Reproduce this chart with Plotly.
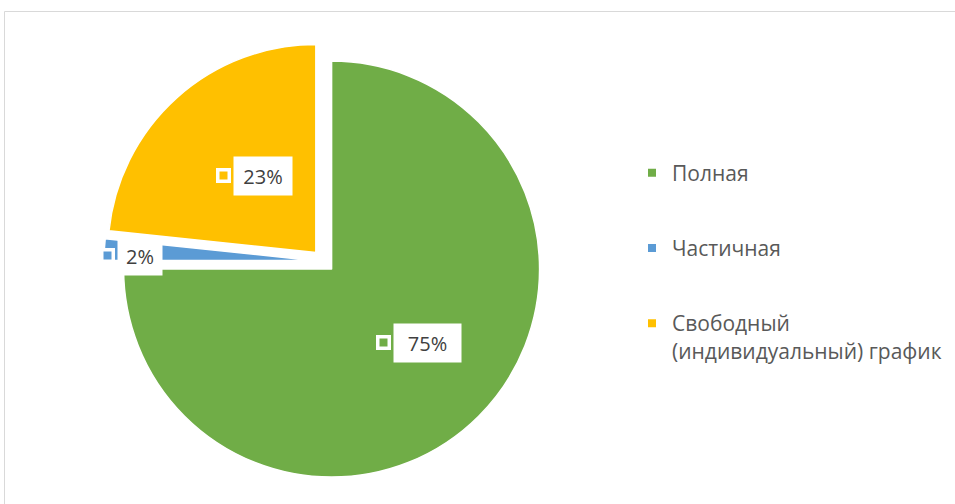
import math
import plotly.graph_objects as go

# ── Data ─────────────────────────────────────────────────────────────────────
labels = ["Полная", "Частичная", "Свободный<br>(индивидуальный) график"]
values = [45, 1, 14]
colors = ["#70AD47", "#5B9BD5", "#FFC000"]

# ── Layout constants (px) ────────────────────────────────────────────────────
W, H = 955, 504
PULL = 0.055
CX, CY, R = 323.5, 261, 208        # pie centre and radius
FONT = "Open Sans"

# data label placement: radial share of R and angle tweak (deg) off slice middle
LABEL_RAD = [0.55, 0.869, 0.473]
LABEL_TWEAK = [-4.8, -1.6, 3.1]
BOX_W = [67, 44, 58]
BOX_H = 38
KEY, KEY_BORDER, GAP = 8, 3.5, 3


def px_x(x):
    return x / W


def px_y(y):
    return 1 - y / H


half = R * (1 + PULL)
fig = go.Figure()

fig.add_trace(go.Pie(
    labels=labels, values=values, sort=False, direction="clockwise", rotation=0,
    pull=[PULL] * len(values), textinfo="none", hoverinfo="label+percent",
    marker=dict(colors=colors, line=dict(color="white", width=1.5)),
    showlegend=False,
    domain=dict(x=[px_x(CX - 1.2 * half), px_x(CX + 1.2 * half)],
                y=[px_y(CY + half), px_y(CY - half)]),
))

# legend entries (separate groups so the spacing can be opened up)
for i, (lab, col) in enumerate(zip(labels, colors)):
    fig.add_trace(go.Scatter(x=[None], y=[None], mode="markers", name=lab,
                             legendgroup=str(i),
                             marker=dict(symbol="square", size=8, color=col)))

# data labels: coloured key + white box with percentage
total = sum(values)
start = 0.0
key_out = KEY + 2 * KEY_BORDER
annotations = []
for i, v in enumerate(values):
    frac = v / total
    mid = (start + frac / 2) * 360
    start += frac
    th = math.radians(mid)
    vx = CX + PULL * R * math.sin(th)
    vy = CY - PULL * R * math.cos(th)
    la = math.radians(mid + LABEL_TWEAK[i])
    lx = vx + LABEL_RAD[i] * R * math.sin(la)
    ly = vy - LABEL_RAD[i] * R * math.cos(la)
    common = dict(x=px_x(lx), y=px_y(ly), xref="paper", yref="paper",
                  xanchor="center", yanchor="middle", showarrow=False, borderpad=0)
    annotations.append(dict(
        common, text=f"{round(frac * 100)}%",
        font=dict(family=FONT, size=20, color="#404040"),
        bgcolor="white", width=BOX_W[i], height=BOX_H,
        xshift=(key_out + GAP) / 2,
    ))
    annotations.append(dict(
        common, text=" ", bgcolor=colors[i], bordercolor="white",
        borderwidth=KEY_BORDER, width=KEY, height=KEY,
        xshift=-(GAP + BOX_W[i]) / 2,
    ))

fig.update_layout(
    width=W, height=H,
    margin=dict(l=0, r=0, t=0, b=0),
    paper_bgcolor="white", plot_bgcolor="white",
    xaxis=dict(visible=False), yaxis=dict(visible=False),
    annotations=annotations,
    legend=dict(x=px_x(632), y=px_y(152.5), xanchor="left", yanchor="top",
                traceorder="grouped", tracegroupgap=45, valign="top",
                font=dict(family=FONT, size=21, color="#595959")),
    shapes=[dict(type="rect", xref="paper", yref="paper", layer="below",
                 x0=px_x(4.5), x1=1.05, y0=-0.05, y1=px_y(11.5),
                 line=dict(color="#D9D9D9", width=1))],
)

# drop the browser's default body margin so the chart sits at the page corner
fig.write_html("out.html", config={"displayModeBar": False},
               post_script="document.body.style.margin = '0';")
